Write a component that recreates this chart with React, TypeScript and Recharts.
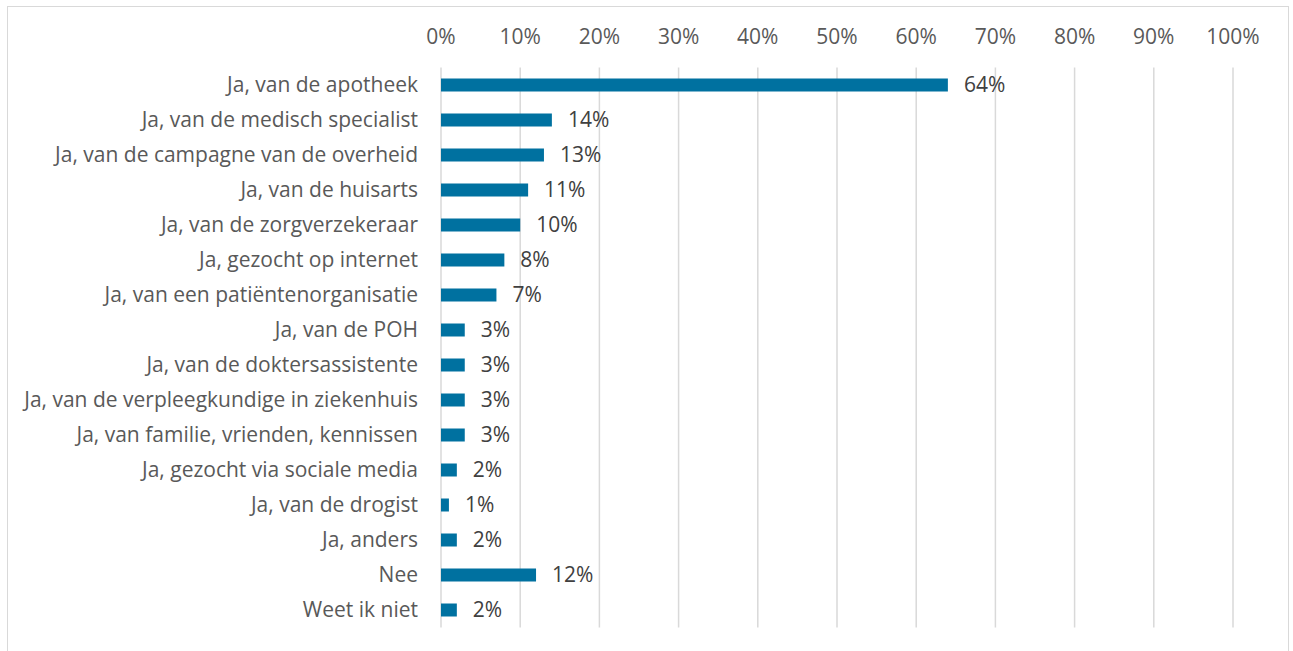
import { BarChart, Bar, XAxis, YAxis, CartesianGrid, LabelList } from "recharts"

const categories = [
    "Ja, van de apotheek",
    "Ja, van de medisch specialist",
    "Ja, van de campagne van de overheid",
    "Ja, van de huisarts",
    "Ja, van de zorgverzekeraar",
    "Ja, gezocht op internet",
    "Ja, van een patiëntenorganisatie",
    "Ja, van de POH",
    "Ja, van de doktersassistente",
    "Ja, van de verpleegkundige in ziekenhuis",
    "Ja, van familie, vrienden, kennissen",
    "Ja, gezocht via sociale media",
    "Ja, van de drogist",
    "Ja, anders",
    "Nee",
    "Weet ik niet",
]

const values = [0.64, 0.14, 0.13, 0.11, 0.1, 0.08, 0.07, 0.03, 0.03, 0.03, 0.03, 0.02, 0.01, 0.02, 0.12, 0.02]

const xTicks = [0, 0.1, 0.2, 0.3, 0.4, 0.5, 0.6, 0.7, 0.8, 0.9, 1]

const data = categories.map((name, i) => ({ name, value: values[i] }))

const pct = (v: any) => `${Math.round(Number(v) * 100)}%`

const font = "'Open Sans', sans-serif"

export default function App() {
    return (
        <div style={{ position: "absolute", left: 0, top: 0, width: 1293, height: 651, background: "#fff", overflow: "hidden" }}>
            <div
                style={{
                    position: "absolute",
                    left: 7,
                    top: 6,
                    width: 1280,
                    height: 700,
                    border: "1.5px solid #d9d9d9",
                }}
            />
            <div style={{ position: "absolute", left: 0, top: 0 }}>
                <BarChart
                    width={1293}
                    height={651}
                    data={data}
                    layout="vertical"
                    barSize={13}
                    margin={{ top: 0, right: 60, bottom: 23.5, left: 0 }}
                >
                    <CartesianGrid horizontal={false} stroke="#d9d9d9" strokeWidth={1.5} />
                    <XAxis
                        type="number"
                        orientation="top"
                        domain={[0, 1]}
                        ticks={xTicks}
                        tickFormatter={pct}
                        height={67.5}
                        axisLine={false}
                        tickLine={false}
                        tickSize={0}
                        tickMargin={24}
                        interval={0}
                        tick={{ fill: "#595959", fontSize: 21, fontFamily: font }}
                    />
                    <YAxis
                        type="category"
                        dataKey="name"
                        width={441}
                        axisLine={false}
                        tickLine={false}
                        tickSize={0}
                        tickMargin={23}
                        interval={0}
                        tick={{ fill: "#595959", fontSize: 21, fontFamily: font }}
                    />
                    <Bar dataKey="value" fill="#0071a0" isAnimationActive={false}>
                        <LabelList
                            dataKey="value"
                            position="right"
                            offset={16}
                            formatter={pct}
                            fill="#404040"
                            fontSize={21}
                            fontFamily={font}
                        />
                    </Bar>
                </BarChart>
            </div>
        </div>
    )
}
